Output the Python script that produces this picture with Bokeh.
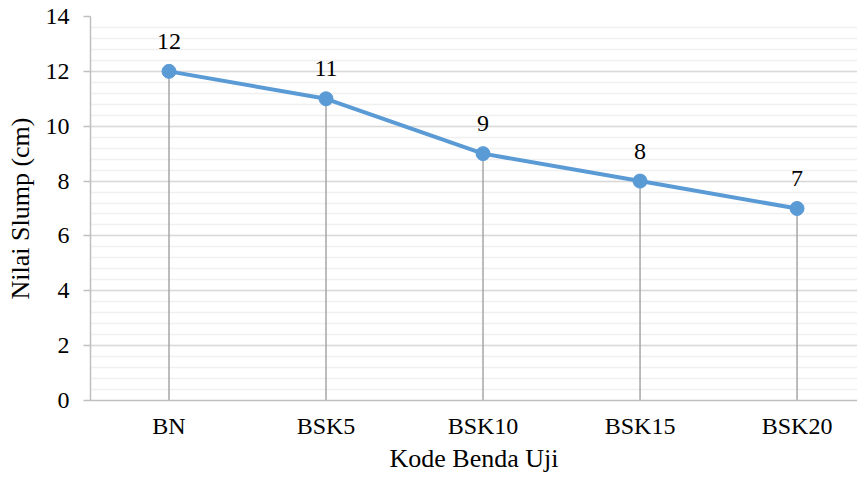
from bokeh.plotting import figure
from bokeh.models import FixedTicker, SingleIntervalTicker, Range1d, ColumnDataSource
from bokeh.core.properties import value
from bokeh.embed import file_html
from bokeh.resources import INLINE

categories = ["BN", "BSK5", "BSK10", "BSK15", "BSK20"]
slump = [12, 11, 9, 8, 7]
x_title = "Kode Benda Uji"
y_title = "Nilai Slump (cm)"

FONT = "Liberation Serif"
FS_TICK = "24px"
FS_TITLE = "26px"
FS_DATA = "24px"
xs = list(range(len(categories)))
src = ColumnDataSource(dict(x=xs, y=slump, base=[0] * len(xs), lab=[str(v) for v in slump]))

p = figure(width=857, height=475, output_backend="svg", toolbar_location=None,
           x_range=Range1d(-0.5, 4.385), y_range=Range1d(0, 14),
           min_border_left=90, min_border_right=0, min_border_top=16, min_border_bottom=72)
p.outline_line_color = None
p.background_fill_color = "white"

p.xgrid.visible = False
p.yaxis.ticker = SingleIntervalTicker(interval=2, num_minor_ticks=5)
p.ygrid.grid_line_color = "#D9D9D9"
p.ygrid.grid_line_width = 1.5
p.ygrid.minor_grid_line_color = "#F0F0F0"
p.ygrid.minor_grid_line_width = 1.5

p.xaxis.ticker = FixedTicker(ticks=xs)
p.xaxis.major_label_overrides = {i: c for i, c in enumerate(categories)}
p.xaxis.major_tick_out = 0
p.xaxis.major_tick_in = 0
p.xaxis.minor_tick_out = 0
p.xaxis.minor_tick_in = 0
p.xaxis.major_label_standoff = 12
p.xaxis.axis_label = x_title
p.xaxis.axis_label_standoff = 2

p.yaxis.major_tick_out = 7
p.yaxis.major_tick_in = 0
p.yaxis.minor_tick_out = 0
p.yaxis.minor_tick_in = 0
p.yaxis.major_label_standoff = 14
p.yaxis.axis_label = y_title
p.yaxis.axis_label_standoff = 8

for ax in (p.xaxis, p.yaxis):
    ax.axis_line_color = "#BFBFBF"
    ax.axis_line_width = 1.5
    ax.major_tick_line_color = "#BFBFBF"
    ax.major_tick_line_width = 1.5
    ax.major_label_text_font = FONT
    ax.major_label_text_font_size = FS_TICK
    ax.major_label_text_color = "#000000"
    ax.axis_label_text_font = FONT
    ax.axis_label_text_font_size = FS_TITLE
    ax.axis_label_text_font_style = "normal"
    ax.axis_label_text_color = "#000000"

p.segment(x0="x", y0="base", x1="x", y1="y", source=src, line_color="#A6A6A6", line_width=1.5)
p.line(x="x", y="y", source=src, line_color="#5B9BD5", line_width=4)
p.scatter(x="x", y="y", source=src, size=14, fill_color="#5B9BD5", line_color="#5B9BD5")
p.text(x="x", y="y", text="lab", source=src, text_font=value(FONT), text_font_size=FS_DATA,
       text_align="center", text_baseline="alphabetic", y_offset=-30, text_color="#000000")

open("out.html", "w").write(file_html(p, INLINE))
